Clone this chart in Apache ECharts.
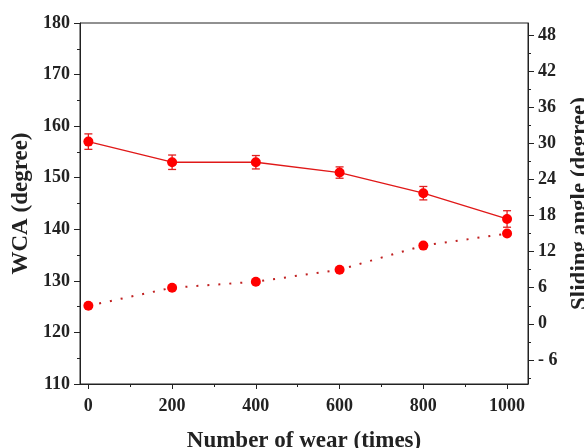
<!DOCTYPE html>
<html><head><meta charset="utf-8">
<script src="https://cdn.jsdelivr.net/npm/echarts@6/dist/echarts.min.js"></script>
<style>html,body{margin:0;padding:0;background:#fff}#c{width:584px;height:448px}</style>
</head><body><div id="c"></div>
<script>
var wear = [0, 200, 400, 600, 800, 1000];
var wca = [157, 153, 153, 151, 147, 142];
var wcaErr = [1.5, 1.4, 1.3, 1.1, 1.3, 1.6];
var sliding = [3, 6, 7, 9, 13, 15];
var xTicks = [0, 200, 400, 600, 800, 1000];
var xMinor = [100, 300, 500, 700, 900];
var rightTicks = [-6, 0, 6, 12, 18, 24, 30, 36, 42, 48];
var rightMinor = [-9, -3, 3, 9, 15, 21, 27, 33, 39, 45];

var font = 'Liberation Serif';
var ink = '#222';
var chart = echarts.init(document.getElementById('c'));
var errData = wear.map(function (x, i) { return [x, wca[i] - wcaErr[i], wca[i] + wcaErr[i]]; });

chart.setOption({
  animation: false,
  grid: { left: 80, right: 56, top: 23, bottom: 64, show: true, borderColor: ink, borderWidth: 1, outerBoundsMode: 'none', containLabel: false },
  xAxis: [{
    type: 'value', min: -20, max: 1050,
    name: 'Number of wear (times)', nameLocation: 'middle', nameGap: 46,
    nameTextStyle: { fontFamily: font, fontWeight: 'bold', fontSize: 23, color: ink },
    axisLine: { show: true, onZero: false, lineStyle: { color: ink, width: 1 } },
    axisTick: { show: true, length: 5, customValues: xTicks, lineStyle: { color: ink } },
    axisLabel: { customValues: xTicks, formatter: function (v) { return String(v); }, fontFamily: font, fontWeight: 'bold', fontSize: 18, color: ink, margin: 13 },
    splitLine: { show: false }
  }, {
    type: 'value', min: -20, max: 1050, position: 'bottom',
    axisLine: { show: false, onZero: false },
    axisTick: { show: true, length: 3, customValues: xMinor, lineStyle: { color: ink } },
    axisLabel: { show: false },
    splitLine: { show: false }
  }],
  yAxis: [{
    type: 'value', min: 110, max: 180, interval: 10, position: 'left',
    name: 'WCA (degree)', nameLocation: 'middle', nameGap: 41, nameRotate: 90,
    nameTextStyle: { fontFamily: font, fontWeight: 'bold', fontSize: 23, color: ink },
    axisLine: { show: true, onZero: false, lineStyle: { color: ink, width: 1 } },
    axisTick: { show: true, length: 6, lineStyle: { color: ink } },
    minorTick: { show: true, splitNumber: 2, length: 3, lineStyle: { color: ink } },
    axisLabel: { fontFamily: font, fontWeight: 'bold', fontSize: 18, color: ink, margin: 10 },
    splitLine: { show: false }
  }, {
    type: 'value', min: -10, max: 50, position: 'right',
    name: 'Sliding angle (degree)', nameLocation: 'middle', nameGap: 38, nameRotate: 90,
    nameTextStyle: { fontFamily: font, fontWeight: 'bold', fontSize: 23, color: ink },
    axisLine: { show: true, onZero: false, lineStyle: { color: ink, width: 1 } },
    axisTick: { show: true, length: 6, customValues: rightTicks, lineStyle: { color: ink } },
    axisLabel: { customValues: rightTicks, formatter: function (v) { return v < 0 ? '- ' + (-v) : String(v); }, fontFamily: font, fontWeight: 'bold', fontSize: 18, color: ink, margin: 10 },
    splitLine: { show: false }
  }, {
    type: 'value', min: -10, max: 50, position: 'right',
    axisLine: { show: false, onZero: false },
    axisTick: { show: true, length: 3, customValues: rightMinor, lineStyle: { color: ink } },
    axisLabel: { show: false },
    splitLine: { show: false }
  }],
  series: [{
    type: 'line', xAxisIndex: 0, yAxisIndex: 0,
    data: wear.map(function (x, i) { return [x, wca[i]]; }),
    symbol: 'circle', symbolSize: 10,
    itemStyle: { color: '#f00' },
    lineStyle: { color: '#e01818', width: 1.3 }
  }, {
    type: 'custom', xAxisIndex: 0, yAxisIndex: 0,
    data: errData,
    renderItem: function (params, api) {
      var lo = api.coord([api.value(0), api.value(1)]);
      var hi = api.coord([api.value(0), api.value(2)]);
      var w = 4;
      var st = { stroke: '#e02020', lineWidth: 1.3 };
      return { type: 'group', children: [
        { type: 'line', shape: { x1: lo[0], y1: lo[1], x2: hi[0], y2: hi[1] }, style: st },
        { type: 'line', shape: { x1: lo[0] - w, y1: lo[1], x2: lo[0] + w, y2: lo[1] }, style: st },
        { type: 'line', shape: { x1: hi[0] - w, y1: hi[1], x2: hi[0] + w, y2: hi[1] }, style: st }
      ] };
    },
    z: 3
  }, {
    type: 'line', xAxisIndex: 0, yAxisIndex: 1,
    data: wear.map(function (x, i) { return [x, sliding[i]]; }),
    symbol: 'circle', symbolSize: 10,
    itemStyle: { color: '#f00' },
    lineStyle: { color: '#c02020', width: 2, type: [2, 9] }
  }]
});
</script>
</body></html>
